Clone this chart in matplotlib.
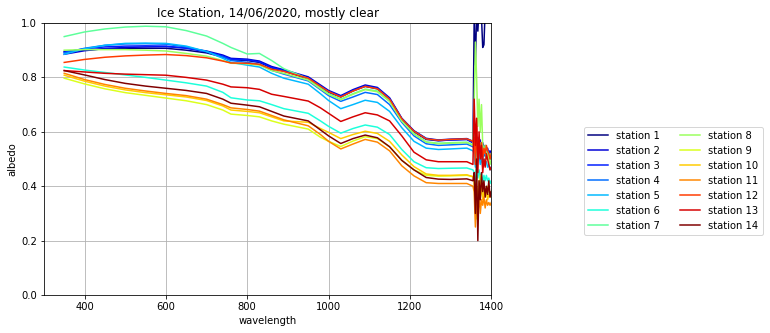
import numpy as np
import matplotlib
matplotlib.use("Agg")
import matplotlib.pyplot as plt

wl_smooth = [350, 400, 450, 500, 550, 600, 650, 700, 740, 760, 800, 830, 860, 890,
             950, 980, 1000, 1030, 1060, 1090, 1120, 1150, 1180, 1210, 1240, 1270,
             1300, 1340, 1355]
wl_noisy = [1358, 1361, 1364, 1367, 1370, 1373, 1376, 1379, 1382, 1385, 1388,
            1391, 1394, 1397, 1400]
wavelength = wl_smooth + wl_noisy

station_1 = [0.895, 0.90, 0.905, 0.907, 0.907, 0.907, 0.90, 0.89, 0.875, 0.865, 0.862, 0.855, 0.835, 0.823,
             0.795, 0.765, 0.745, 0.728, 0.75, 0.767, 0.758, 0.72, 0.645, 0.60, 0.572, 0.567, 0.57, 0.572, 0.56,
             1.02, 0.845, 1.04, 0.97, 1.05, 1.06, 1.02, 0.91, 0.92, 1.05, 1.1, 1.1, 1.12, 1.1, 1.1]
station_2 = [0.885, 0.898, 0.906, 0.91, 0.912, 0.913, 0.908, 0.897, 0.882, 0.87, 0.867, 0.86, 0.84, 0.828,
             0.802, 0.772, 0.752, 0.733, 0.755, 0.772, 0.763, 0.725, 0.65, 0.604, 0.576, 0.57, 0.573, 0.575, 0.565,
             0.55, 0.60, 0.52, 0.58, 0.55, 0.57, 0.53, 0.56, 0.54, 0.55, 0.53, 0.54, 0.52, 0.53, 0.52]
station_3 = [0.893, 0.905, 0.912, 0.915, 0.916, 0.915, 0.907, 0.894, 0.878, 0.867, 0.864, 0.857, 0.836, 0.825,
             0.798, 0.768, 0.748, 0.73, 0.752, 0.768, 0.76, 0.722, 0.648, 0.602, 0.574, 0.568, 0.57, 0.572, 0.56,
             0.56, 0.52, 0.58, 0.54, 0.56, 0.53, 0.55, 0.52, 0.54, 0.53, 0.54, 0.52, 0.53, 0.51, 0.52]
station_4 = [0.89, 0.907, 0.918, 0.923, 0.924, 0.922, 0.912, 0.895, 0.875, 0.862, 0.855, 0.848, 0.826, 0.812,
             0.787, 0.755, 0.733, 0.712, 0.728, 0.745, 0.737, 0.70, 0.635, 0.585, 0.556, 0.55, 0.552, 0.555, 0.545,
             0.54, 0.50, 0.56, 0.52, 0.55, 0.51, 0.54, 0.50, 0.52, 0.51, 0.52, 0.50, 0.51, 0.50, 0.50]
station_5 = [0.885, 0.905, 0.918, 0.925, 0.926, 0.925, 0.915, 0.895, 0.87, 0.855, 0.845, 0.838, 0.815, 0.797,
             0.775, 0.74, 0.715, 0.685, 0.70, 0.716, 0.708, 0.675, 0.615, 0.565, 0.54, 0.535, 0.537, 0.54, 0.53,
             0.52, 0.47, 0.55, 0.50, 0.52, 0.48, 0.51, 0.47, 0.50, 0.48, 0.49, 0.47, 0.48, 0.46, 0.47]
station_6 = [0.838, 0.827, 0.818, 0.809, 0.80, 0.79, 0.78, 0.768, 0.745, 0.725, 0.717, 0.714, 0.70, 0.685,
             0.668, 0.64, 0.62, 0.595, 0.612, 0.625, 0.617, 0.59, 0.535, 0.49, 0.468, 0.465, 0.466, 0.467, 0.46,
             0.45, 0.40, 0.48, 0.43, 0.46, 0.42, 0.45, 0.41, 0.44, 0.42, 0.44, 0.42, 0.43, 0.41, 0.42]
station_7 = [0.95, 0.967, 0.978, 0.985, 0.988, 0.986, 0.972, 0.952, 0.925, 0.91, 0.886, 0.888, 0.862, 0.832,
             0.795, 0.762, 0.74, 0.72, 0.74, 0.757, 0.75, 0.713, 0.64, 0.593, 0.563, 0.558, 0.56, 0.562, 0.552,
             0.55, 0.60, 0.50, 0.57, 0.53, 0.56, 0.52, 0.55, 0.53, 0.54, 0.52, 0.53, 0.51, 0.52, 0.51]
station_8 = [0.90, 0.902, 0.902, 0.902, 0.90, 0.897, 0.888, 0.878, 0.862, 0.852, 0.85, 0.845, 0.825, 0.815,
             0.79, 0.758, 0.738, 0.718, 0.738, 0.755, 0.747, 0.712, 0.64, 0.592, 0.562, 0.556, 0.558, 0.56, 0.55,
             0.70, 0.93, 0.80, 0.62, 0.72, 0.60, 0.70, 0.55, 0.52, 0.55, 0.50, 0.52, 0.50, 0.48, 0.50]
station_9 = [0.797, 0.776, 0.758, 0.744, 0.734, 0.724, 0.714, 0.70, 0.68, 0.665, 0.66, 0.655, 0.64, 0.628,
             0.61, 0.58, 0.565, 0.546, 0.566, 0.582, 0.575, 0.545, 0.495, 0.46, 0.44, 0.437, 0.438, 0.44, 0.435,
             0.42, 0.35, 0.28, 0.38, 0.40, 0.44, 0.38, 0.40, 0.37, 0.39, 0.37, 0.40, 0.38, 0.37, 0.38]
station_10 = [0.808, 0.786, 0.768, 0.754, 0.744, 0.736, 0.728, 0.715, 0.695, 0.68, 0.675, 0.67, 0.655, 0.64,
              0.635, 0.612, 0.598, 0.575, 0.59, 0.602, 0.594, 0.565, 0.515, 0.472, 0.445, 0.44, 0.44, 0.442, 0.435,
              0.42, 0.30, 0.40, 0.33, 0.42, 0.36, 0.40, 0.35, 0.38, 0.36, 0.38, 0.35, 0.37, 0.36, 0.37]
station_11 = [0.815, 0.792, 0.774, 0.76, 0.75, 0.741, 0.733, 0.72, 0.70, 0.688, 0.682, 0.676, 0.66, 0.644,
              0.622, 0.59, 0.565, 0.537, 0.555, 0.572, 0.562, 0.53, 0.475, 0.438, 0.413, 0.41, 0.41, 0.41, 0.40,
              0.38, 0.25, 0.35, 0.28, 0.38, 0.30, 0.35, 0.33, 0.36, 0.32, 0.35, 0.33, 0.34, 0.33, 0.34]
station_12 = [0.855, 0.866, 0.874, 0.879, 0.882, 0.884, 0.88, 0.872, 0.86, 0.853, 0.852, 0.848, 0.83, 0.822,
              0.797, 0.767, 0.748, 0.728, 0.75, 0.767, 0.758, 0.72, 0.648, 0.602, 0.574, 0.569, 0.572, 0.574, 0.565,
              0.58, 0.48, 0.62, 0.50, 0.55, 0.52, 0.56, 0.50, 0.54, 0.52, 0.55, 0.53, 0.52, 0.50, 0.52]
station_13 = [0.825, 0.82, 0.815, 0.812, 0.81, 0.808, 0.80, 0.79, 0.775, 0.765, 0.762, 0.756, 0.738, 0.73,
              0.713, 0.688, 0.668, 0.638, 0.655, 0.67, 0.662, 0.64, 0.585, 0.525, 0.497, 0.49, 0.49, 0.49, 0.48,
              0.72, 0.55, 0.65, 0.45, 0.60, 0.50, 0.55, 0.45, 0.50, 0.47, 0.52, 0.50, 0.48, 0.46, 0.47]
station_14 = [0.825, 0.809, 0.792, 0.778, 0.768, 0.76, 0.752, 0.741, 0.72, 0.705, 0.698, 0.692, 0.675, 0.658,
              0.64, 0.607, 0.585, 0.557, 0.575, 0.588, 0.578, 0.545, 0.495, 0.46, 0.432, 0.426, 0.425, 0.427, 0.42,
              0.45, 0.30, 0.50, 0.20, 0.42, 0.35, 0.45, 0.38, 0.42, 0.36, 0.40, 0.37, 0.42, 0.36, 0.38]

series = [station_1, station_2, station_3, station_4, station_5, station_6, station_7,
          station_8, station_9, station_10, station_11, station_12, station_13, station_14]
labels = [f"station {i}" for i in range(1, 15)]

DPI = 72
fig = plt.figure(figsize=(770 / DPI, 333 / DPI), dpi=DPI)
ax = fig.add_axes([0.057, 0.114, 0.581, 0.817])
colors = plt.cm.jet(np.linspace(0, 1, len(series)))
for vals, lab, c in zip(series, labels, colors):
    ax.plot(wavelength, vals, color=c, label=lab, lw=1.5)

ax.set_xlim(300, 1400)
ax.set_ylim(0, 1)
ax.set_xticks([400, 600, 800, 1000, 1200, 1400])
ax.set_yticks([0.0, 0.2, 0.4, 0.6, 0.8, 1.0])
ax.grid(True)
ax.set_title("Ice Station, 14/06/2020, mostly clear")
ax.set_xlabel("wavelength")
ax.set_ylabel("albedo")
ax.legend(ncol=2, loc="center left", bbox_to_anchor=(1.197, 0.42))
fig.savefig("out.png", dpi=DPI)
